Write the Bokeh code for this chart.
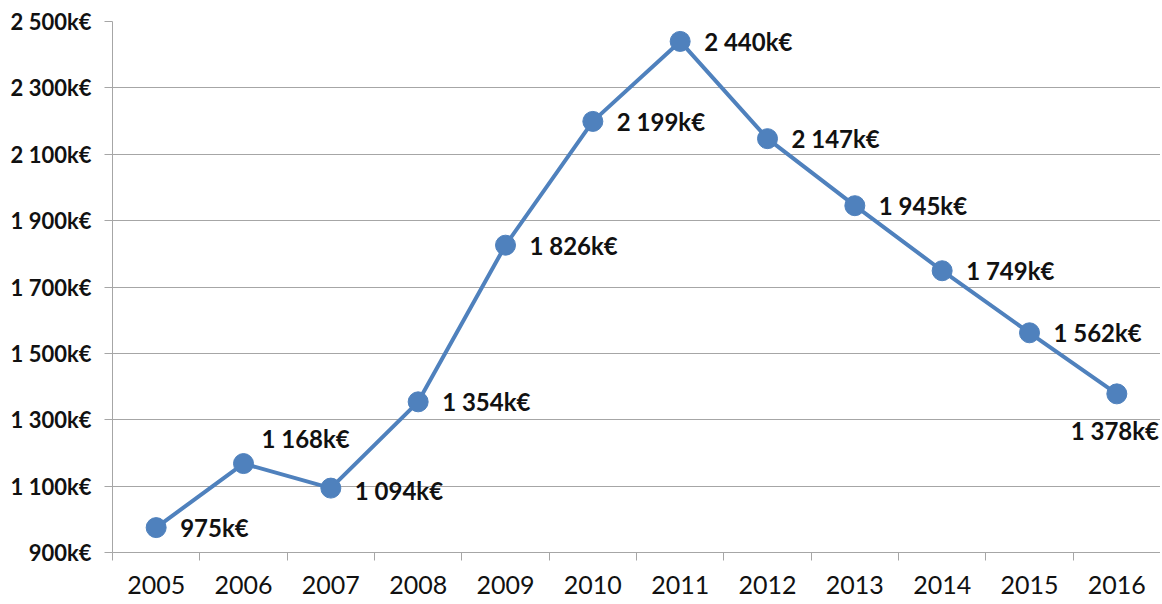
from bokeh.plotting import figure
from bokeh.models import ColumnDataSource, FixedTicker, Range1d
from bokeh.core.properties import value
from bokeh.embed import file_html
from bokeh.resources import INLINE

years = ["2005", "2006", "2007", "2008", "2009", "2010", "2011", "2012", "2013", "2014", "2015", "2016"]
revenue = [975, 1168, 1094, 1354, 1826, 2199, 2440, 2147, 1945, 1749, 1562, 1378]
y_ticks = [900, 1100, 1300, 1500, 1700, 1900, 2100, 2300, 2500]

def fmt(v):
    return f"{v:,}".replace(",", " ") + "k€"

xs = [i + 0.5 for i in range(len(years))]
labels = [fmt(v) for v in revenue]

# label placement (pixels): right of the point by default
x_off = [24] * len(years)
y_off = [0] * len(years)
align = ["left"] * len(years)
x_off[1], y_off[1] = 18, -25          # 2006 above-right
y_off[2] = 2                          # 2007
x_off[11], y_off[11], align[11] = -2, 37, "center"  # 2016 below

src = ColumnDataSource(dict(x=xs, y=revenue, label=labels,
                            xo=x_off, yo=y_off, al=align))

p = figure(width=1160, height=600, output_backend="svg", toolbar_location=None,
           x_range=Range1d(0, len(years)), y_range=Range1d(900, 2500))
p.min_border_left = 112
p.min_border_right = 0
p.min_border_top = 21
p.min_border_bottom = 48
p.outline_line_color = None
p.background_fill_color = "white"
p.border_fill_color = "white"

grid_col = "#A6A6A6"
# y axis
p.yaxis.ticker = FixedTicker(ticks=y_ticks)
p.yaxis.major_label_overrides = {t: fmt(t) for t in y_ticks}
p.yaxis.major_label_text_font = "Lato"
p.yaxis.major_label_text_font_style = "bold"
p.yaxis.major_label_text_font_size = "22px"
p.yaxis.major_label_text_color = "#111111"
p.yaxis.axis_line_color = grid_col
p.yaxis.major_tick_line_color = grid_col
p.yaxis.major_tick_in = 0
p.yaxis.major_tick_out = 8
p.yaxis.minor_tick_line_color = None
p.yaxis.major_label_standoff = 13

# x axis
p.xaxis.ticker = FixedTicker(ticks=xs, minor_ticks=list(range(len(years) + 1)))
p.xaxis.major_label_overrides = {x: y for x, y in zip(xs, years)}
p.xaxis.major_label_text_font = "Lato"
p.xaxis.major_label_text_font_size = "25px"
p.xaxis.major_label_text_color = "#111111"
p.xaxis.axis_line_color = grid_col
p.xaxis.major_tick_line_color = None
p.xaxis.minor_tick_line_color = grid_col
p.xaxis.minor_tick_in = 0
p.xaxis.minor_tick_out = 8
p.xaxis.major_label_standoff = 15

p.xgrid.grid_line_color = None
p.ygrid.ticker = FixedTicker(ticks=y_ticks)
p.ygrid.grid_line_color = grid_col
p.ygrid.grid_line_width = 1.2

blue = "#4F81BD"
p.line("x", "y", source=src, line_color=blue, line_width=4)
p.scatter("x", "y", source=src, size=20, fill_color=blue, line_color=blue)
p.text("x", "y", text="label", source=src, x_offset="xo", y_offset="yo",
       text_align="al", text_baseline="middle",
       text_font=value("Lato"), text_font_style="bold",
       text_font_size="24px", text_color="#111111")

open("out.html", "w").write(file_html(p, INLINE))
